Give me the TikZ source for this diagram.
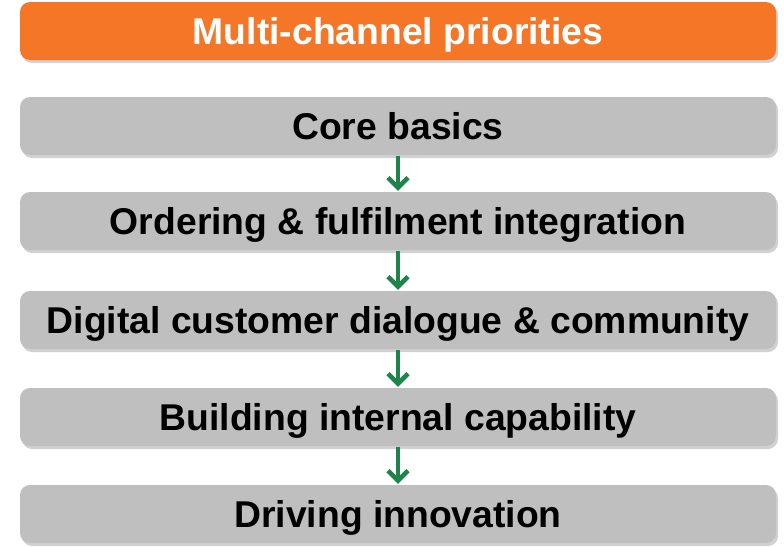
\documentclass[tikz,border=0pt]{standalone}
\usepackage{fontspec}
\setmainfont{Liberation Sans}
\usetikzlibrary{arrows.meta,shadows}
\definecolor{prioorange}{RGB}{245,118,38}
\definecolor{priogray}{RGB}{191,191,191}
\definecolor{priogreen}{RGB}{30,132,73}
\tikzset{
  prio/.style={rounded corners=10pt, minimum width=756pt, minimum height=58pt,
    inner sep=0pt, text height=26.5pt, text depth=0pt,
    font=\fontsize{37.3}{40}\selectfont\bfseries,
    drop shadow={shadow xshift=2pt, shadow yshift=-3pt, opacity=0.3, fill=black!60}},
  headbox/.style={prio, fill=prioorange, text=white},
  stepbox/.style={prio, fill=priogray, text=black},
  flow/.style={priogreen, line width=4.5pt, -{Straight Barb[length=10pt,width=20pt]}, shorten <=1pt, shorten >=1pt}
}
\begin{document}
\begin{tikzpicture}[x=1pt,y=-1pt]
\useasboundingbox (0,0) rectangle (784,546);
% Heading
\node[headbox] (head) at (398,31) {Multi-channel priorities};

% Priority steps
\node[stepbox] (core) at (398,126) {Core basics};
\node[stepbox] (order) at (398,221) {Ordering \& fulfilment integration};
\node[stepbox] (dialogue) at (398,320) {Digital customer dialogue \& community};
\node[stepbox] (capab) at (398,417) {Building internal capability};
\node[stepbox] (innov) at (398,514) {Driving innovation};

% Arrows
\draw[flow] (core) -- (order);
\draw[flow] (order) -- (dialogue);
\draw[flow] (dialogue) -- (capab);
\draw[flow] (capab) -- (innov);
\end{tikzpicture}
\end{document}
